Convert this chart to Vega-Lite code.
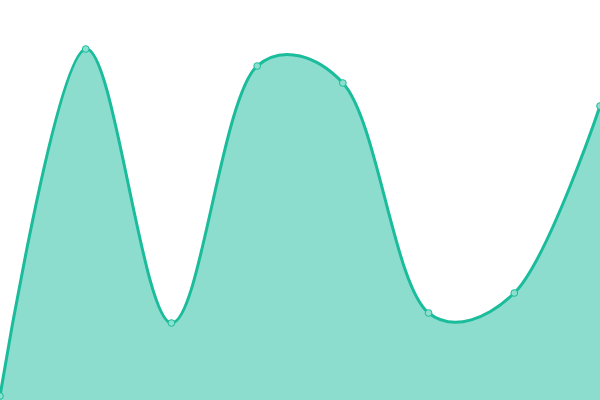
{
  "$schema": "https://vega.github.io/schema/vega-lite/v6.json",
  "autosize": "none",
  "width": 600,
  "height": 400,
  "padding": 0,
  "config": {"view": {"stroke": null}},
  "data": {
    "values": [
      {"x": 0, "y": 4},
      {"x": 1, "y": 351},
      {"x": 2, "y": 77},
      {"x": 3, "y": 334},
      {"x": 4, "y": 317},
      {"x": 5, "y": 87},
      {"x": 6, "y": 107},
      {"x": 7, "y": 294}
    ]
  },
  "encoding": {
    "x": {"field": "x", "type": "quantitative", "scale": {"domain": [0, 7], "nice": false}, "axis": null},
    "y": {"field": "y", "type": "quantitative", "scale": {"domain": [0, 400], "nice": false, "zero": true}, "axis": null}
  },
  "layer": [
    {"mark": {"type": "area", "interpolate": "catmull-rom", "tension": 0.3, "color": "#1abc9c", "opacity": 0.5}},
    {"mark": {"type": "line", "interpolate": "catmull-rom", "tension": 0.3, "color": "#1abc9c", "strokeWidth": 3}},
    {"mark": {"type": "point", "filled": true, "fill": "#8ce0cf", "stroke": "#1abc9c", "strokeWidth": 1, "size": 45, "opacity": 1}}
  ]
}
